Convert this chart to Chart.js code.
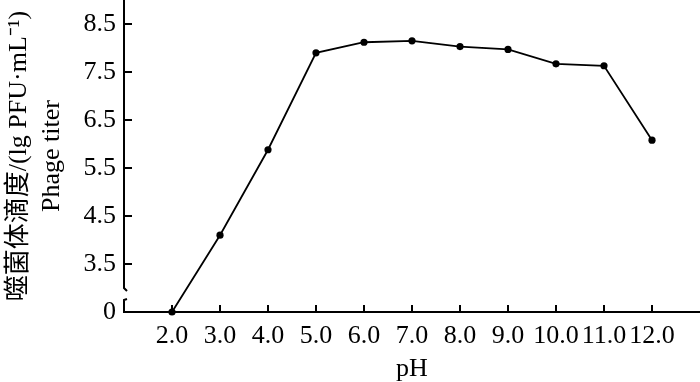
<!DOCTYPE html>
<html>
<head>
<meta charset="utf-8">
<script src="https://cdn.jsdelivr.net/npm/chart.js@4/dist/chart.umd.min.js"></script>
<style>
  body { margin: 0; background: #fff; }
  canvas { display: block; }
</style>
</head>
<body>
<canvas id="chart" width="700" height="382"></canvas>
<script>
// dane
const phValues = [2, 3, 4, 5, 6, 7, 8, 9, 10, 11, 12]
const titers = [0, 4.1, 5.88, 7.9, 8.12, 8.15, 8.03, 7.97, 7.67, 7.63, 6.08]
const yTickValues = [0, 3.5, 4.5, 5.5, 6.5, 7.5, 8.5]
const xTickValues = [2, 3, 4, 5, 6, 7, 8, 9, 10, 11, 12]
const yTitle = ["噬菌体滴度/(lg PFU·mL⁻¹)", "Phage titer"]
const xTitle = "pH"

// oś Y jest przerwana: 0 rysujemy tam, gdzie byłoby 2.5
const BREAK_AT = 2.5
function toAxis(v) {
    return v <= 0 ? BREAK_AT : v
}

const serif = "'Liberation Serif', 'Noto Sans CJK SC', serif"

// osie, przerwa na osi Y i znaczniki skierowane do środka
const axesPlugin = {
    id: "axes",
    beforeDatasetsDraw(chart) {
        const ctx = chart.ctx
        const x = chart.scales.x
        const y = chart.scales.y
        const left = x.left
        const bottom = y.bottom
        ctx.save()
        ctx.strokeStyle = "#000"
        ctx.lineWidth = 2
        ctx.lineCap = "butt"

        // oś X
        ctx.beginPath()
        ctx.moveTo(left - 1, bottom)
        ctx.lineTo(x.right, bottom)
        ctx.stroke()

        // oś Y z przerwą
        const gapTop = y.getPixelForValue(3.0)
        const gapBottom = y.getPixelForValue(2.75)
        ctx.beginPath()
        ctx.moveTo(left, y.top)
        ctx.lineTo(left, gapTop)
        ctx.lineTo(left + 3, gapTop + 3)
        ctx.stroke()
        ctx.beginPath()
        ctx.moveTo(left + 3, gapBottom - 1)
        ctx.lineTo(left, gapBottom)
        ctx.lineTo(left, bottom)
        ctx.stroke()

        // znaczniki
        for (const v of yTickValues) {
            if (v <= 0) continue
            const py = y.getPixelForValue(v)
            ctx.beginPath()
            ctx.moveTo(left, py)
            ctx.lineTo(left + 8, py)
            ctx.stroke()
        }
        for (const v of xTickValues) {
            const px = x.getPixelForValue(v)
            ctx.beginPath()
            ctx.moveTo(px, bottom)
            ctx.lineTo(px, bottom - 7)
            ctx.stroke()
        }
        ctx.restore()
    }
}

const chartData = {
    datasets: [{
        data: phValues.map((ph, i) => ({ x: ph, y: toAxis(titers[i]) })),
        borderColor: "#000",
        backgroundColor: "#000",
        borderWidth: 1.8,
        pointRadius: 3.6,
        pointBorderWidth: 0,
        tension: 0,
        clip: false
    }]
}

new Chart(document.getElementById("chart"), {
    type: "line",
    data: chartData,
    plugins: [axesPlugin],
    options: {
        responsive: false,
        animation: false,
        layout: { padding: 0, autoPadding: false },
        plugins: { legend: { display: false }, tooltip: { enabled: false } },
        scales: {
            x: {
                type: "linear",
                min: 1,
                max: 13,
                grid: { display: false, drawTicks: false },
                border: { display: false },
                afterBuildTicks(scale) {
                    scale.ticks = xTickValues.map(v => ({ value: v }))
                },
                afterFit(scale) {
                    scale.height = 70
                    scale.paddingLeft = 0
                    scale.paddingRight = 0
                },
                ticks: {
                    color: "#000",
                    padding: 9,
                    maxRotation: 0,
                    autoSkip: false,
                    font: { family: serif, size: 26 },
                    callback: v => v.toFixed(1)
                },
                title: {
                    display: true,
                    text: xTitle,
                    color: "#000",
                    font: { family: serif, size: 26, lineHeight: 1.0 },
                    padding: 0
                }
            },
            y: {
                min: BREAK_AT,
                max: 9.0,
                grid: { display: false, drawTicks: false },
                border: { display: false },
                afterBuildTicks(scale) {
                    scale.ticks = yTickValues.map(v => ({ value: toAxis(v) }))
                },
                afterFit(scale) {
                    scale.width = 124
                    scale.paddingTop = 0
                    scale.paddingBottom = 0
                },
                ticks: {
                    color: "#000",
                    padding: 8,
                    autoSkip: false,
                    font: { family: serif, size: 26 },
                    callback: v => v === BREAK_AT ? "0" : v.toFixed(1)
                },
                title: {
                    display: true,
                    text: yTitle,
                    color: "#000",
                    font: { family: serif, size: 26, lineHeight: 1.25 },
                    padding: { top: 3, bottom: 0 }
                }
            }
        }
    }
})
</script>
</body>
</html>
